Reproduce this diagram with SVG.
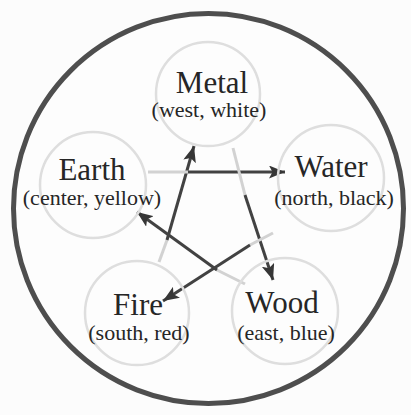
<svg xmlns="http://www.w3.org/2000/svg" width="411" height="415" viewBox="0 0 411 415">
<style>
.ghost{fill:none;stroke:#dedede;stroke-width:2.5}
.main{font-family:"Liberation Serif","Times New Roman",serif;font-size:31px;fill:#262626;text-anchor:middle}
.sub{font-family:"Liberation Serif","Times New Roman",serif;font-size:22px;fill:#262626;text-anchor:middle}
.dark{stroke:#424242;stroke-width:3;fill:none;marker-end:url(#ah)}
.faint{stroke:#d2d2d2;stroke-width:3;fill:none}
</style>
<defs>
<marker id="ah" markerUnits="userSpaceOnUse" markerWidth="16" markerHeight="13" viewBox="0 0 16 13" refX="16" refY="6.5" orient="auto">
<path d="M0,0 L16,6.5 L0,13 L3.5,6.5 Z" fill="#363636"/>
</marker>
</defs>
<rect width="411" height="415" fill="#fcfcfc"/>
<circle cx="208.5" cy="208.5" r="195" fill="#fdfdfd" stroke="#4e4e4e" stroke-width="5"/>
<g id="connectors">
<line class="faint" x1="159" y1="262" x2="167" y2="240"/>
<line class="dark" x1="167" y1="240" x2="194" y2="146"/>
<line class="faint" x1="148" y1="172" x2="188" y2="172"/>
<line class="dark" x1="188" y1="172" x2="285" y2="172"/>
<line class="faint" x1="233" y1="148" x2="245" y2="195"/>
<line class="dark" x1="245" y1="195" x2="273" y2="280"/>
<line class="faint" x1="245" y1="284" x2="217" y2="270"/>
<line class="dark" x1="217" y1="270" x2="137" y2="212"/>
<line class="faint" x1="273" y1="233" x2="250" y2="245"/>
<line class="dark" x1="250" y1="245" x2="163" y2="301"/>
</g>
<g id="metal">
<circle class="ghost" cx="208" cy="94" r="52"/>
<text class="main" x="212" y="93">Metal</text>
<text class="sub" x="209" y="117">(west, white)</text>
</g>
<g id="earth">
<circle class="ghost" cx="93" cy="185" r="53"/>
<text class="main" x="92" y="180">Earth</text>
<text class="sub" x="92" y="205">(center, yellow)</text>
</g>
<g id="water">
<circle class="ghost" cx="331" cy="178" r="53"/>
<text class="main" x="331" y="177">Water</text>
<text class="sub" x="334" y="205">(north, black)</text>
</g>
<g id="fire">
<circle class="ghost" cx="137" cy="313" r="52"/>
<text class="main" x="138" y="315">Fire</text>
<text class="sub" x="139" y="340">(south, red)</text>
</g>
<g id="wood">
<circle class="ghost" cx="285" cy="311" r="53"/>
<text class="main" x="282" y="313">Wood</text>
<text class="sub" x="286" y="340">(east, blue)</text>
</g>
</svg>
